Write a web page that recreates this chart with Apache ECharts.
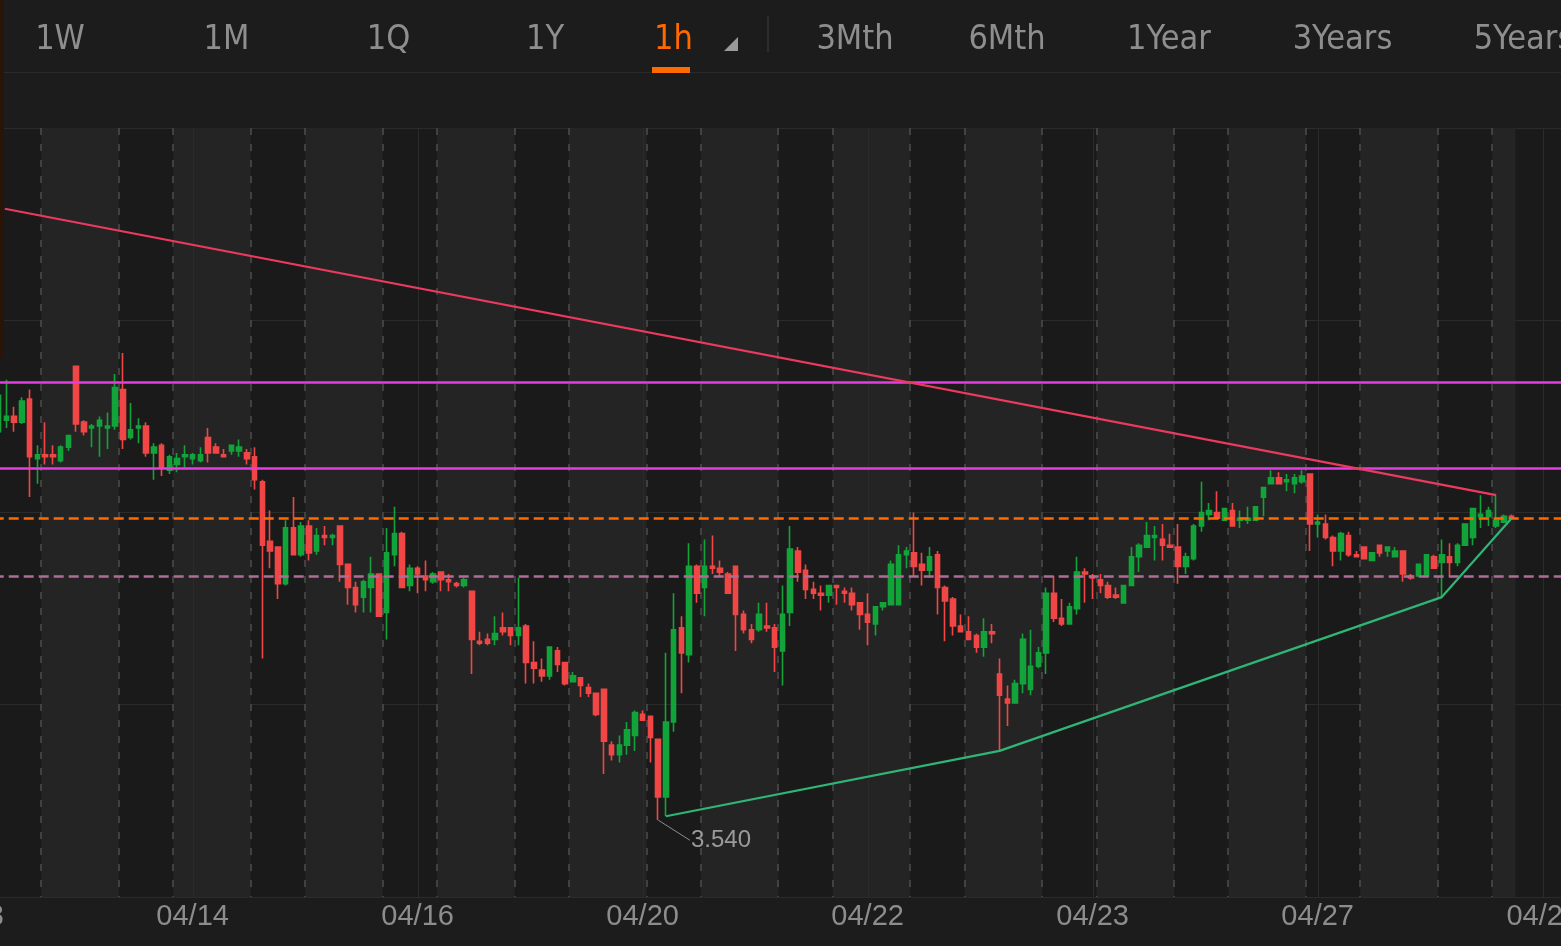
<!DOCTYPE html>
<html><head><meta charset="utf-8">
<script src="https://cdn.jsdelivr.net/npm/echarts@6/dist/echarts.min.js"></script>
<style>html,body{margin:0;padding:0;background:#1c1c1c;overflow:hidden}#c{width:1561px;height:946px}</style>
</head><body><div id="c"></div><script>
// ---- data ----
const tickLabels = ['04/13','04/14','04/16','04/20','04/22','04/23','04/27','04/28'];
const LEAD = 4, TRAIL = 6, TICK_EVERY = 29;
// [open, close, low, high]
const candles = [
[3.742,3.761,3.738,3.768],[3.748,3.750,3.744,3.769],[3.750,3.747,3.742,3.755],[3.747,3.758,3.746,3.760],
[3.759,3.729,3.708,3.764],[3.728,3.730,3.715,3.735],[3.730,3.729,3.725,3.747],[3.730,3.729,3.725,3.735],
[3.727,3.734,3.726,3.735],[3.734,3.740,3.732,3.740],[3.776,3.746,3.742,3.776],[3.747,3.742,3.740,3.748],
[3.744,3.745,3.734,3.746],[3.745,3.748,3.729,3.750],[3.744,3.745,3.733,3.752],[3.745,3.765,3.743,3.772],
[3.764,3.738,3.733,3.783],[3.739,3.743,3.738,3.757],[3.744,3.745,3.736,3.749],[3.745,3.731,3.729,3.747],
[3.731,3.734,3.717,3.736],[3.735,3.723,3.719,3.736],[3.722,3.729,3.720,3.730],[3.725,3.728,3.721,3.731],
[3.729,3.730,3.723,3.735],[3.728,3.730,3.725,3.731],[3.727,3.730,3.726,3.734],[3.739,3.731,3.726,3.744],
[3.734,3.731,3.731,3.736],[3.730,3.729,3.729,3.733],[3.732,3.735,3.730,3.735],[3.732,3.734,3.729,3.738],
[3.731,3.728,3.725,3.733],[3.729,3.717,3.712,3.734],[3.716,3.683,3.624,3.717],[3.685,3.680,3.671,3.701],
[3.682,3.663,3.655,3.682],[3.663,3.692,3.662,3.696],[3.692,3.678,3.678,3.708],[3.678,3.693,3.677,3.695],
[3.693,3.679,3.675,3.696],[3.680,3.688,3.678,3.692],[3.688,3.687,3.683,3.693],[3.687,3.688,3.683,3.689],
[3.693,3.673,3.664,3.693],[3.673,3.661,3.652,3.673],[3.661,3.652,3.648,3.664],[3.656,3.664,3.648,3.665],
[3.661,3.668,3.648,3.677],[3.668,3.646,3.646,3.668],[3.648,3.679,3.634,3.692],[3.678,3.689,3.672,3.703],
[3.689,3.661,3.661,3.690],[3.662,3.671,3.659,3.673],[3.671,3.668,3.658,3.672],[3.667,3.665,3.659,3.675],
[3.664,3.668,3.663,3.669],[3.669,3.665,3.659,3.669],[3.665,3.664,3.659,3.668],[3.663,3.662,3.661,3.664],
[3.662,3.665,3.661,3.666],[3.659,3.634,3.616,3.659],[3.633,3.632,3.631,3.638],[3.634,3.632,3.631,3.637],
[3.634,3.637,3.631,3.646],[3.640,3.638,3.636,3.648],[3.640,3.636,3.631,3.640],[3.636,3.640,3.631,3.666],
[3.641,3.622,3.611,3.642],[3.622,3.619,3.611,3.633],[3.618,3.615,3.612,3.624],[3.615,3.630,3.613,3.630],
[3.628,3.621,3.617,3.630],[3.622,3.611,3.610,3.622],[3.612,3.615,3.612,3.617],[3.614,3.610,3.604,3.614],
[3.609,3.606,3.604,3.611],[3.606,3.595,3.594,3.606],[3.608,3.581,3.564,3.608],[3.579,3.574,3.571,3.581],
[3.574,3.579,3.570,3.584],[3.579,3.587,3.574,3.591],[3.584,3.596,3.576,3.597],[3.595,3.592,3.592,3.597],
[3.594,3.583,3.570,3.594],[3.582,3.552,3.540,3.582],[3.552,3.591,3.542,3.627],[3.591,3.639,3.586,3.658],
[3.640,3.627,3.606,3.646],[3.626,3.672,3.622,3.684],[3.672,3.658,3.653,3.673],[3.661,3.672,3.646,3.686],
[3.672,3.671,3.668,3.688],[3.671,3.669,3.667,3.675],[3.668,3.658,3.658,3.669],[3.672,3.647,3.628,3.672],
[3.647,3.639,3.637,3.649],[3.639,3.634,3.632,3.642],[3.639,3.647,3.638,3.653],[3.641,3.640,3.638,3.653],
[3.640,3.630,3.617,3.642],[3.628,3.647,3.610,3.662],[3.648,3.681,3.641,3.693],[3.680,3.669,3.664,3.682],
[3.670,3.660,3.655,3.673],[3.660,3.658,3.655,3.664],[3.658,3.657,3.649,3.662],[3.657,3.662,3.653,3.662],
[3.662,3.661,3.652,3.662],[3.659,3.658,3.653,3.661],[3.658,3.652,3.649,3.661],[3.653,3.647,3.639,3.653],
[3.647,3.643,3.631,3.658],[3.642,3.651,3.636,3.651],[3.651,3.653,3.649,3.653],[3.652,3.673,3.652,3.675],
[3.652,3.678,3.652,3.683],[3.678,3.680,3.671,3.682],[3.679,3.672,3.667,3.700],[3.673,3.670,3.662,3.679],
[3.670,3.677,3.666,3.682],[3.678,3.661,3.647,3.680],[3.661,3.654,3.633,3.662],[3.655,3.641,3.636,3.656],
[3.641,3.638,3.638,3.647],[3.638,3.634,3.634,3.646],[3.636,3.630,3.627,3.637],[3.630,3.638,3.625,3.645],
[3.638,3.637,3.632,3.642],[3.616,3.605,3.576,3.624],[3.603,3.601,3.589,3.610],[3.601,3.611,3.601,3.613],
[3.611,3.634,3.606,3.637],[3.608,3.620,3.605,3.639],[3.620,3.627,3.619,3.630],[3.627,3.658,3.616,3.661],
[3.658,3.645,3.643,3.667],[3.645,3.642,3.641,3.655],[3.642,3.651,3.642,3.653],[3.650,3.669,3.647,3.677],
[3.669,3.668,3.653,3.671],[3.667,3.666,3.655,3.668],[3.665,3.662,3.658,3.668],[3.662,3.656,3.655,3.664],
[3.657,3.656,3.655,3.661],[3.653,3.662,3.653,3.662],[3.662,3.677,3.662,3.682],[3.677,3.683,3.669,3.684],
[3.682,3.688,3.682,3.695],[3.687,3.688,3.675,3.693],[3.686,3.683,3.675,3.694],[3.683,3.682,3.682,3.689],
[3.682,3.672,3.663,3.694],[3.672,3.677,3.668,3.679],[3.676,3.693,3.675,3.694],[3.693,3.700,3.690,3.716],
[3.699,3.701,3.696,3.705],[3.700,3.697,3.697,3.711],[3.696,3.702,3.696,3.702],[3.701,3.693,3.693,3.705],
[3.696,3.697,3.692,3.701],[3.696,3.697,3.694,3.703],[3.696,3.703,3.696,3.703],[3.708,3.713,3.698,3.713],
[3.715,3.718,3.715,3.722],[3.718,3.715,3.715,3.721],[3.716,3.717,3.711,3.720],[3.715,3.718,3.710,3.720],
[3.716,3.719,3.715,3.722],[3.720,3.694,3.680,3.720],[3.694,3.695,3.687,3.699],[3.694,3.687,3.686,3.699],
[3.687,3.680,3.672,3.688],[3.680,3.689,3.675,3.690],[3.688,3.678,3.677,3.690],[3.678,3.677,3.677,3.680],
[3.682,3.676,3.676,3.682],[3.675,3.679,3.675,3.679],[3.683,3.679,3.677,3.683],[3.680,3.682,3.677,3.682],
[3.677,3.680,3.677,3.682],[3.680,3.668,3.664,3.680],[3.667,3.666,3.665,3.668],[3.667,3.673,3.667,3.673],
[3.667,3.678,3.667,3.678],[3.677,3.671,3.671,3.678],[3.674,3.678,3.656,3.686],[3.677,3.674,3.667,3.684],
[3.674,3.683,3.672,3.684],[3.683,3.694,3.683,3.694],[3.687,3.702,3.683,3.702],[3.698,3.699,3.692,3.709],
[3.698,3.701,3.693,3.703],[3.693,3.696,3.692,3.709],[3.695,3.698,3.695,3.699],[3.698,3.697,3.697,3.699]
];
// session boundaries (index of first candle of each session)
const sessionStarts = [6,16,23,33,40,50,57,67,74,84,91,101,108,118,125,135,142,152,159,169,176,186,193];
const sessionKinds  = ['day','night','day','night','day','night','day','night','day','night','day','night',
                       'day','night','day','night','day','night','day','night','day','night','day'];
const resistanceLevels = [3.768, 3.723];
const lastPrice = 3.697;
const supportLevel = 3.667;
// trend lines: [candle index, price]
const downTrend = [[0.8, 3.858], [193, 3.709]];
const upTrend = [[86, 3.542], [129, 3.576], [186, 3.656], [195, 3.697]];
const toolbarItems = ['1W','1M','1Q','1Y','1h','3Mth','6Mth','1Year','3Years','5Years'];
const activeItem = '1h';

// ---- build ----
const RED = '#f04646', GREEN = '#12a43a', ORANGE = '#ff6a00';
const N = LEAD + candles.length + TRAIL;
const categories = Array.from({length: N}, (_, i) => 'k' + i);
const ohlcData = candles.map((c, i) => [i + LEAD, c[0], c[1], c[2], c[3]]);
const bands = [], breaks = [];
sessionStarts.forEach((s, k) => {
  breaks.push([s + LEAD - 0.5]);
  if (sessionKinds[k] === 'day') {
    const e = k + 1 < sessionStarts.length ? sessionStarts[k + 1] : candles.length;
    bands.push([s + LEAD - 0.5, e + LEAD - 0.5]);
  }
});
const tickLines = tickLabels.map((_, t) => [t * TICK_EVERY]);
let minIdx = 0;
candles.forEach((c, i) => { if (c[2] < candles[minIdx][2]) minIdx = i; });
const minLow = candles[minIdx][2];
const shift = pts => pts.map(p => [p[0] + LEAD, p[1]]);

const PITCH = 7.759;
const gridLeft = -5.25 - LEAD * PITCH;
const gridWidth = N * PITCH;

const chart = echarts.init(document.getElementById('c'), null, {renderer: 'canvas'});

const toolbarX = [60, 226.5, 388.5, 545, 673.5, 855, 1007, 1169, 1342.5, 1523.5];
const TBFONT = '"DejaVu Sans Condensed","Liberation Sans",sans-serif';
const graphics = [
  {type: 'line', silent: true, shape: {x1: 0, y1: 72.5, x2: 1561, y2: 72.5}, style: {stroke: '#2a2a2a', lineWidth: 1}},
  {type: 'line', silent: true, shape: {x1: 768, y1: 16, x2: 768, y2: 52}, style: {stroke: '#333333', lineWidth: 1.5}},
  {type: 'rect', silent: true, shape: {x: 652, y: 67, width: 38, height: 6}, style: {fill: ORANGE}},
  {type: 'polygon', silent: true, shape: {points: [[738, 37], [738, 51], [724, 51]]}, style: {fill: '#9a9a9a'}},
  {type: 'rect', silent: true, shape: {x: 0, y: 0, width: 4, height: 357}, style: {fill: '#2a1408'}, z: 100}
];
toolbarItems.forEach((t, k) => {
  graphics.push({type: 'text', silent: true, x: toolbarX[k], y: 40,
    style: {text: t, font: '34px ' + TBFONT, fill: t === activeItem ? ORANGE : '#8e8e8e', align: 'center', verticalAlign: 'middle'}});
});

chart.setOption({
  backgroundColor: '#1c1c1c',
  animation: false,
  grid: {left: gridLeft, width: gridWidth, top: 128, bottom: 49, outerBoundsMode: 'none', containLabel: false,
         show: true, backgroundColor: '#1a1a1a', borderWidth: 0},
  xAxis: [
    {type: 'category', data: categories, boundaryGap: true,
     axisLine: {show: false}, axisTick: {show: false}, splitLine: {show: false},
     axisLabel: {interval: TICK_EVERY - 1, color: '#8d8d8d', fontSize: 29, fontFamily: '"Liberation Sans",Arial,sans-serif', margin: 5,
       formatter: (v, idx) => (idx % TICK_EVERY === 0 ? (tickLabels[idx / TICK_EVERY] || '') : '')}},
    {type: 'value', min: -0.5, max: N - 0.5, show: false}
  ],
  yAxis: {type: 'value', min: 3.5, max: 3.9, interval: 0.1, axisLabel: {show: false}, axisLine: {show: false}, axisTick: {show: false},
    splitLine: {show: true, lineStyle: {color: '#2b2b2b', width: 1}}},
  graphic: graphics,
  series: [
    {type: 'custom', xAxisIndex: 1, silent: true, z: 0, data: bands, encode: {x: [0, 1]},
     renderItem: (params, api) => {
       const a = api.coord([api.value(0), 3.7])[0], b = api.coord([api.value(1), 3.7])[0];
       return {type: 'rect', shape: {x: a, y: params.coordSys.y, width: b - a, height: params.coordSys.height}, style: {fill: '#242424'}};
     }},
    {type: 'custom', xAxisIndex: 1, silent: true, z: 1, data: tickLines, encode: {x: 0},
     renderItem: (params, api) => {
       const x = Math.round(api.coord([api.value(0), 3.7])[0]) + 0.5;
       return {type: 'line', shape: {x1: x, y1: params.coordSys.y, x2: x, y2: params.coordSys.y + params.coordSys.height}, style: {stroke: '#2b2b2b', lineWidth: 1}};
     }},
    {type: 'custom', xAxisIndex: 1, silent: true, z: 1, data: breaks, encode: {x: 0},
     renderItem: (params, api) => {
       const x = Math.round(api.coord([api.value(0), 3.7])[0]);
       return {type: 'line', shape: {x1: x, y1: params.coordSys.y, x2: x, y2: params.coordSys.y + params.coordSys.height},
         style: {stroke: '#4d4d4d', lineWidth: 1.5, lineDash: [7, 9]}};
     }},
    {type: 'candlestick', xAxisIndex: 0, yAxisIndex: 0, z: 3, data: ohlcData, encode: {x: 0, y: [1, 2, 3, 4]},
     barWidth: 5, silent: true,
     itemStyle: {color: GREEN, color0: RED, borderColor: GREEN, borderColor0: RED, borderWidth: 1.6},
     markLine: {silent: true, precision: 4, symbol: ['none', 'none'], label: {show: false}, z: 6,
       data: [
         {yAxis: resistanceLevels[0], lineStyle: {color: '#e23ee2', type: 'solid', width: 2.5}},
         {yAxis: resistanceLevels[1], lineStyle: {color: '#e23ee2', type: 'solid', width: 2.5}},
         {yAxis: lastPrice, lineStyle: {color: ORANGE, type: [10, 5], width: 2.5}},
         {yAxis: supportLevel, lineStyle: {color: '#b06c98', type: [10, 5], width: 2.5}}
       ]}},
    {type: 'line', xAxisIndex: 1, z: 6, silent: true, symbol: 'none', data: shift(downTrend), lineStyle: {color: '#ec3a5e', width: 2.2}},
    {type: 'line', xAxisIndex: 1, z: 6, silent: true, symbol: 'none', data: shift(upTrend), lineStyle: {color: '#2fb677', width: 2.2}},
    {type: 'line', xAxisIndex: 1, z: 6, silent: true, symbol: 'none',
     data: [[minIdx + LEAD, minLow], [minIdx + LEAD + 4.1, minLow - 0.0105]], lineStyle: {color: '#8c8c8c', width: 1},
     endLabel: {show: true, formatter: minLow.toFixed(3), color: '#9a9a9a', fontSize: 24, fontFamily: '"Liberation Sans",Arial,sans-serif', distance: 1}}
  ]
});
</script></body></html>
